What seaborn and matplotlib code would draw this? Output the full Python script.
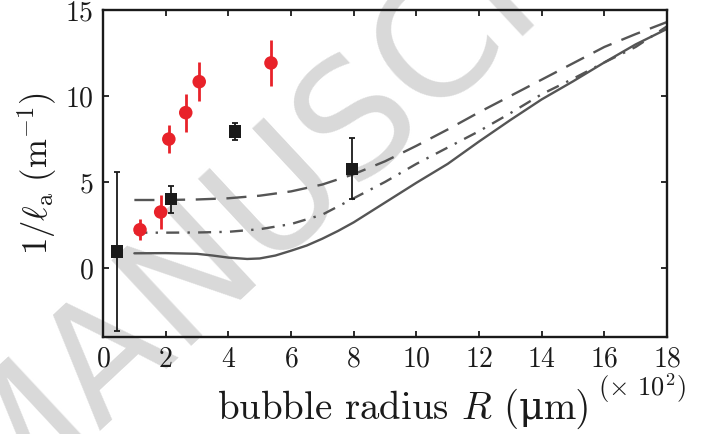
import numpy as np
import matplotlib
matplotlib.use("Agg")
import matplotlib.pyplot as plt
import seaborn as sns

# model curves (x in units of 10^2 um)
curve_x = [1, 2, 3, 4, 5, 6, 7, 8, 9, 10, 11, 12, 13, 14, 15, 16, 17, 18]
dashed_y = [3.95, 3.95, 3.98, 4.05, 4.2, 4.45, 4.85, 5.45, 6.2, 7.1, 8.05, 9.05,
            10.0, 10.95, 11.9, 12.85, 13.6, 14.3]
dashdot_y = [2.05, 2.05, 2.06, 2.1, 2.25, 2.55, 3.1, 4.05, 5.0, 6.05, 7.0, 7.95,
             9.0, 10.1, 11.0, 11.95, 12.85, 14.05]
solid_x = [1, 2, 3, 3.5, 4, 4.6, 5, 5.5, 6, 6.5, 7, 7.5, 8, 9, 10, 11, 12, 13,
           14, 15, 16, 17, 18]
solid_y = [0.85, 0.86, 0.82, 0.72, 0.6, 0.52, 0.55, 0.72, 1.0, 1.3, 1.7, 2.15,
           2.65, 3.8, 4.95, 6.05, 7.35, 8.6, 9.8, 10.85, 11.95, 13.0, 13.9]

# measurements
red_x = [1.18, 1.84, 2.10, 2.64, 3.07, 5.36]
red_y = [2.22, 3.25, 7.49, 9.03, 10.83, 11.92]
red_err = [0.62, 1.0, 0.8, 1.1, 1.15, 1.35]
blk_x = [0.44, 2.16, 4.22, 7.94]
blk_y = [0.96, 4.0, 7.93, 5.76]
blk_err = [4.6, 0.78, 0.5, 1.77]

sns.set_theme(style="ticks")
plt.rcParams["font.family"] = ["cmr10", "DejaVu Serif"]
plt.rcParams["mathtext.fontset"] = "cm"
plt.rcParams["axes.formatter.use_mathtext"] = True

ink = "#1a1a1a"
fig = plt.figure(figsize=(7.17, 4.34), dpi=100)
ax = fig.add_axes([0.1437, 0.2242, 0.7866, 0.7528])
ax.patch.set_alpha(0)

# watermark, behind everything
fig.text(-0.009, -0.188, "MANUSCRIPT", fontsize=116, color="#d9d9d9",
         family="DejaVu Sans", rotation=43, rotation_mode="anchor",
         ha="left", va="baseline", zorder=-1)

gray = "#555555"
sns.lineplot(x=solid_x, y=solid_y, ax=ax, color=gray, lw=1.7)
sns.lineplot(x=curve_x, y=dashdot_y, ax=ax, color=gray, lw=1.7,
             linestyle=(0, (5.5, 3.5, 1, 3.5)))
sns.lineplot(x=curve_x, y=dashed_y, ax=ax, color=gray, lw=1.7,
             linestyle=(0, (8.5, 4.5)))

ax.errorbar(blk_x, blk_y, yerr=blk_err, fmt="none", ecolor=ink,
            elinewidth=1.3, capsize=2.5, capthick=1.3, zorder=3)
sns.scatterplot(x=blk_x, y=blk_y, ax=ax, marker="s", s=80, color=ink,
                edgecolor="none", zorder=4)
ax.errorbar(red_x, red_y, yerr=red_err, fmt="none", ecolor="#e8222a",
            elinewidth=2.0, capsize=0, zorder=3)
sns.scatterplot(x=red_x, y=red_y, ax=ax, marker="o", s=95, color="#e8222a",
                edgecolor="none", zorder=4)

ax.set_xlim(0, 18)
ax.set_ylim(-4, 15)
ax.set_xticks(np.arange(0, 19, 2))
ax.set_yticks([0, 5, 10, 15])
ax.tick_params(direction="in", length=4, width=1.3, labelsize=20,
               top=True, right=True, colors=ink, pad=7)
for s in ax.spines.values():
    s.set_linewidth(1.7)
    s.set_color(ink)

ax.set_ylabel(r"$1/\ell_{\rm a}\ (\mathrm{m}^{-1})$", fontsize=25, color=ink,
              labelpad=4)

# x label built from pieces so the upright mu comes from DejaVu Serif
ybase = 0.035
parts = [(r"bubble radius $R$ (", ["cmr10"]),
         ("μ", ["DejaVu Serif"]),
         ("m)", ["cmr10"])]
texts = [fig.text(0, ybase, s, fontsize=28, color=ink, family=f,
                  ha="left", va="baseline") for s, f in parts]
fig.canvas.draw()
r = fig.canvas.get_renderer()
widths = [t.get_window_extent(r).width for t in texts]
x = 404 - sum(widths) / 2
for t, w in zip(texts, widths):
    t.set_x(x / 717)
    x += w

fig.text(0.895, 0.105, r"(× 10$^{\rm 2}$)", fontsize=19, color=ink,
         family=["cmr10", "DejaVu Sans"], ha="center", va="center")

fig.savefig("out.png", dpi=100)
